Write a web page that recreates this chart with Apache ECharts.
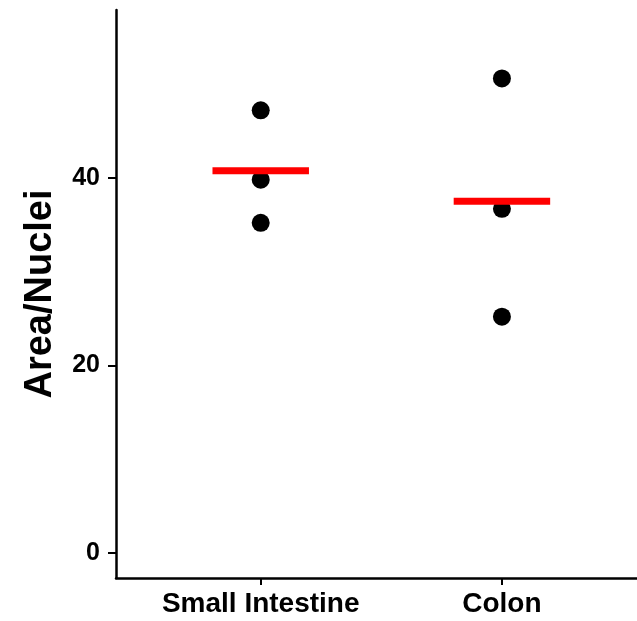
<!DOCTYPE html>
<html>
<head>
<meta charset="utf-8">
<script src="https://cdn.jsdelivr.net/npm/echarts@6/dist/echarts.min.js"></script>
<style>
  html, body { margin: 0; padding: 0; background: #fff; }
  #chart { width: 637px; height: 621px; }
</style>
</head>
<body>
<div id="chart"></div>
<script>
const categories = ['Small Intestine', 'Colon']
const smallIntestine = [47.2, 39.8, 35.2]
const colon = [50.6, 36.7, 25.2]
const means = [40.75, 37.5]
const yTicks = [0, 20, 40]

const chart = echarts.init(document.getElementById('chart'))

// points: x = category position (1, 2)
const points = []
smallIntestine.forEach(v => points.push([1, v]))
colon.forEach(v => points.push([2, v]))

const font = 'Liberation Sans, Arial, sans-serif'

const meanSeries = means.map((m, i) => ({
  type: 'line',
  data: [[i + 1 - 0.2, m], [i + 1 + 0.2, m]],
  symbol: 'none',
  lineStyle: { color: '#ff0000', width: 7, cap: 'butt' },
  z: 5,
  silent: true
}))

chart.setOption({
  animation: false,
  grid: { left: 116, right: 0, top: 10, bottom: 43 },
  xAxis: {
    type: 'value',
    min: 0.4,
    max: 2.56,
    splitLine: { show: false },
    axisLine: { onZero: false, lineStyle: { color: '#000', width: 2.5 } },
    axisTick: { length: 7, lineStyle: { color: '#000', width: 2 }, customValues: [1, 2] },
    axisLabel: {
      customValues: [1, 2],
      formatter: v => categories[Math.round(v) - 1] || '',
      color: '#000',
      fontFamily: font,
      fontWeight: 'bold',
      fontSize: 28,
      margin: 12
    }
  },
  yAxis: {
    type: 'value',
    min: -2.67,
    max: 57.9,
    name: 'Area/Nuclei',
    nameLocation: 'middle',
    nameGap: 56,
    nameTextStyle: { color: '#000', fontFamily: font, fontWeight: 'bold', fontSize: 38 },
    splitLine: { show: false },
    axisLine: { show: true, onZero: false, lineStyle: { color: '#000', width: 2.5 } },
    axisTick: { show: true, length: 8, lineStyle: { color: '#000', width: 2 }, customValues: yTicks },
    axisLabel: {
      customValues: yTicks,
      color: '#000',
      fontFamily: font,
      fontWeight: 'bold',
      fontSize: 25,
      margin: 16
    }
  },
  series: [
    {
      type: 'scatter',
      data: points,
      symbolSize: 18,
      itemStyle: { color: '#000', opacity: 1 },
      z: 3
    },
    ...meanSeries
  ]
})
</script>
</body>
</html>
